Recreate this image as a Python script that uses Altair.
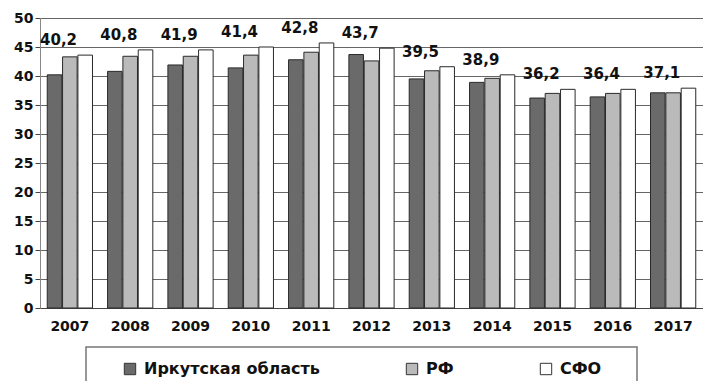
import altair as alt
import pandas as pd

years = ["2007", "2008", "2009", "2010", "2011", "2012", "2013", "2014", "2015", "2016", "2017"]
series_names = ["Иркутская область", "РФ", "СФО"]
irkutsk = [40.2, 40.8, 41.9, 41.4, 42.8, 43.7, 39.5, 38.9, 36.2, 36.4, 37.1]
rf = [43.3, 43.4, 43.4, 43.6, 44.1, 42.6, 40.9, 39.6, 37.0, 37.0, 37.1]
sfo = [43.6, 44.5, 44.5, 45.0, 45.7, 44.8, 41.6, 40.2, 37.7, 37.7, 37.9]

rows = []
for i, y in enumerate(years):
    for s, vals in zip(series_names, [irkutsk, rf, sfo]):
        rows.append({"Год": y, "Серия": s, "Значение": vals[i]})
df = pd.DataFrame(rows)

FONT = "DejaVu Sans"

x_enc = alt.X("Год:N", sort=years, title=None,
              scale=alt.Scale(paddingInner=0.25, paddingOuter=0.12),
              axis=alt.Axis(labelAngle=0, labelFont=FONT, labelFontSize=14, labelFontWeight="bold",
                            labelColor="#111", ticks=False, domainColor="#444", labelPadding=11))
xoff = alt.XOffset("Серия:N", sort=series_names, scale=alt.Scale(paddingInner=0.05))

y_scale = alt.Scale(domain=[0, 50], nice=False)
y_axis = alt.Axis(values=list(range(0, 51, 5)), labelFont=FONT, labelFontSize=14,
                  labelFontWeight="bold", labelColor="#111", tickColor="#444", tickSize=5,
                  domainColor="#888", gridColor="#666", gridWidth=1, labelPadding=2,
                  labelOverlap=False)

base = alt.Chart(df)

bars = base.mark_bar(stroke="#2a2a2a", strokeWidth=1).encode(
    x=x_enc,
    xOffset=xoff,
    y=alt.Y("Значение:Q", title=None, scale=y_scale, axis=y_axis),
    color=alt.Color("Серия:N", sort=series_names,
                    scale=alt.Scale(domain=series_names, range=["#6a6a6a", "#bababa", "#ffffff"]),
                    legend=alt.Legend(title=None, orient="none", legendX=82, legendY=343,
                                      direction="horizontal", symbolType="square", symbolSize=130,
                                      symbolStrokeColor="#333", symbolStrokeWidth=1,
                                      labelFont=FONT, labelFontSize=16, labelFontWeight="bold",
                                      labelColor="#111", columnPadding=84, labelOffset=6,
                                      labelLimit=300)),
)

labels = base.transform_joinaggregate(
    top="max(Значение)", groupby=["Год"]
).transform_filter(
    alt.datum["Серия"] == series_names[0]
).transform_calculate(
    lbl="replace(format(datum['Значение'], '.1f'), '.', ',')"
).mark_text(font=FONT, fontSize=15, fontWeight="bold", color="#111", dy=-7, dx=4, baseline="bottom").encode(
    x=x_enc,
    xOffset=xoff,
    y=alt.Y("top:Q", title=None, scale=y_scale, axis=y_axis),
    text="lbl:N",
)

legend_box = alt.Chart(pd.DataFrame({"a": [0]})).mark_rect(
    fill="white", stroke="#777", strokeWidth=1.5, clip=False
).encode(
    x=alt.value(46), x2=alt.value(597), y=alt.value(329), y2=alt.value(372)
)

chart = alt.layer(legend_box, bars, labels).properties(
    width=663, height=290,
    padding={"left": 40, "top": 18, "right": 0, "bottom": 73},
    autosize=alt.AutoSizeParams(type="none"),
).configure_view(stroke=None).configure_legend(offset=0)

chart.save("out.html", embed_options={"renderer": "svg", "actions": False})
